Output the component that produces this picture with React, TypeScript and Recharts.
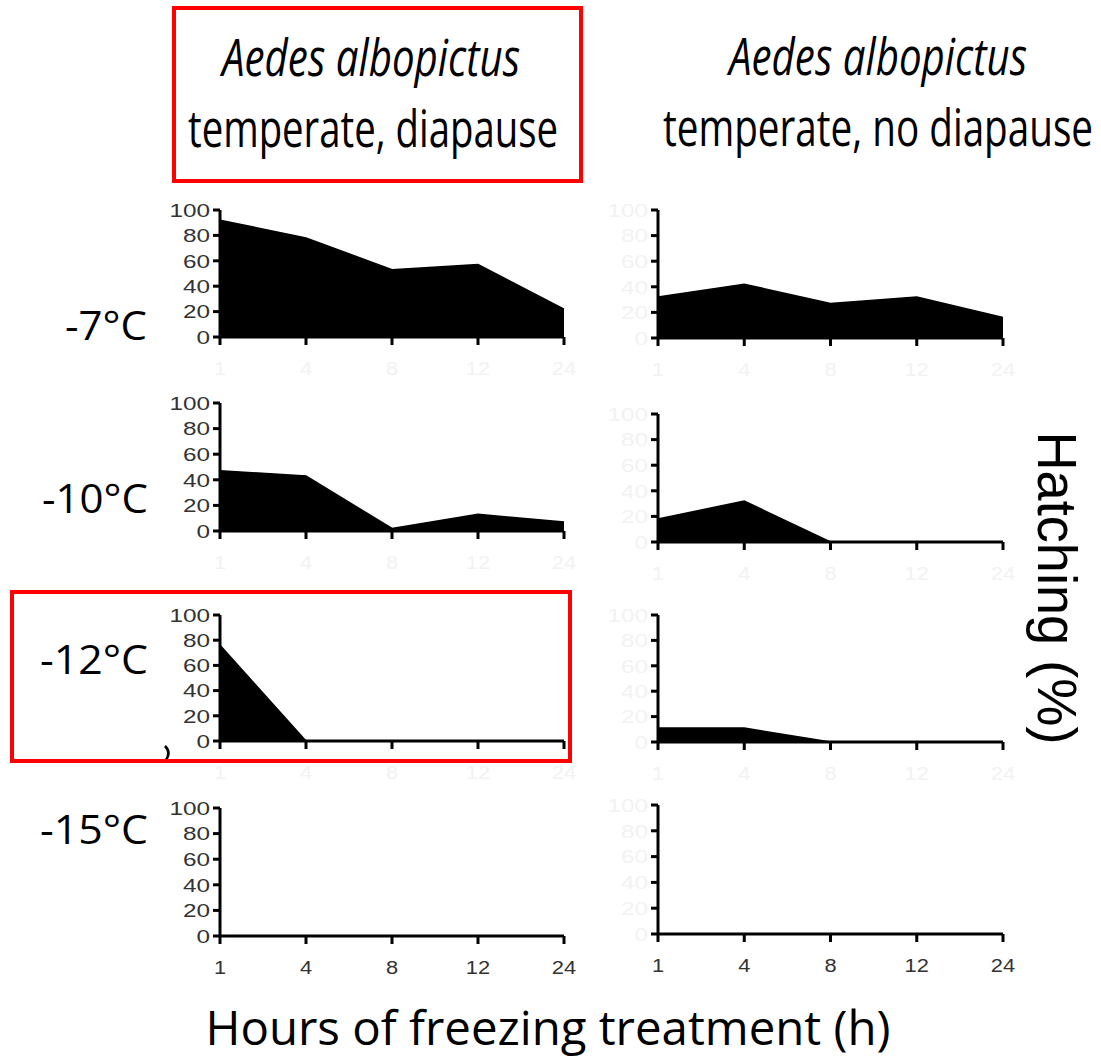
import React from 'react';
import { AreaChart, Area, XAxis, YAxis } from 'recharts';

const HOURS = ['1', '4', '8', '12', '24'];
const Y_TICKS = [0, 20, 40, 60, 80, 100];
const TEMPS = ['-7°C', '-10°C', '-12°C', '-15°C'];
const SPECIES = 'Aedes albopictus';
const GROUPS = ['temperate, diapause', 'temperate, no diapause'];

// hatching (%) per hour
const diapause7 = [92, 78, 53, 57, 22];
const diapause10 = [47, 43, 2, 13, 7];
const diapause12 = [76, 0, 0, 0, 0];
const diapause15 = [0, 0, 0, 0, 0];
const noDiapause7 = [32, 42, 27, 32, 16];
const noDiapause10 = [18, 32, 0, 0, 0];
const noDiapause12 = [11, 11, 0, 0, 0];
const noDiapause15 = [0, 0, 0, 0, 0];

const DARK = '#333333';
const FAINT = '#f2f2f2';

const toRows = (vals: number[]) => HOURS.map((h, i) => ({ h, v: vals[i] }));

// plot-area boxes (left, top, width, height) for each panel
const panels = [
  { vals: diapause7, left: 220, top: 210, w: 344, h: 127, yCol: DARK, xCol: FAINT },
  { vals: noDiapause7, left: 658, top: 210, w: 345, h: 128, yCol: FAINT, xCol: FAINT },
  { vals: diapause10, left: 220, top: 403, w: 344, h: 128, yCol: DARK, xCol: FAINT },
  { vals: noDiapause10, left: 658, top: 414, w: 345, h: 128, yCol: FAINT, xCol: FAINT },
  { vals: diapause12, left: 220, top: 615, w: 344, h: 126, yCol: DARK, xCol: FAINT },
  { vals: noDiapause12, left: 658, top: 615, w: 345, h: 127, yCol: FAINT, xCol: FAINT },
  { vals: diapause15, left: 220, top: 808, w: 344, h: 128, yCol: DARK, xCol: DARK },
  { vals: noDiapause15, left: 658, top: 805, w: 345, h: 129, yCol: FAINT, xCol: DARK },
];

const tickFont = '"Liberation Sans", Arial, sans-serif';
const labelFont = '"Open Sans", "Noto Sans", sans-serif';

function YTick(props: any) {
  const { x, y, payload, color } = props;
  return (
    <text
      transform={`translate(${x},${y}) scale(1.28,1)`}
      textAnchor="end"
      dy="0.36em"
      fontSize={19}
      fontFamily={tickFont}
      fill={color}
    >
      {payload.value}
    </text>
  );
}

function XTick(props: any) {
  const { x, y, payload, color } = props;
  return (
    <text
      transform={`translate(${x},${y + 14}) scale(1.15,1)`}
      textAnchor="middle"
      fontSize={19}
      fontFamily={tickFont}
      fill={color}
    >
      {payload.value}
    </text>
  );
}

// condensed title text: small font stretched upward, so its width stays the natural one
function Title({ x, y, width, stretch, italic, children }: any) {
  return (
    <text
      transform={`translate(${x},${y}) scale(1,${stretch})`}
      fontSize={52 / stretch}
      fontStyle={italic ? 'italic' : 'normal'}
      textAnchor="middle"
      textLength={width}
      lengthAdjust="spacingAndGlyphs"
    >
      {children}
    </text>
  );
}

function Panel({ p }: { p: (typeof panels)[number] }) {
  const W = p.w + 80;
  const H = p.h + 60;
  return (
    <div style={{ position: 'absolute', left: p.left - 60, top: p.top - 15, width: W, height: H }}>
      <AreaChart width={W} height={H} data={toRows(p.vals)} margin={{ top: 15, right: 20, bottom: 0, left: 0 }}>
        <XAxis
          dataKey="h"
          scale="point"
          interval={0}
          height={45}
          padding={{ left: 0, right: 0 }}
          tickSize={8}
          tickMargin={16}
          axisLine={{ stroke: '#000', strokeWidth: 3 }}
          tickLine={{ stroke: '#000', strokeWidth: 3 }}
          tick={(t: any) => <XTick {...t} color={p.xCol} />}
        />
        <YAxis
          type="number"
          domain={[0, 100]}
          ticks={Y_TICKS}
          interval={0}
          width={60}
          tickSize={7}
          tickMargin={3}
          axisLine={{ stroke: '#000', strokeWidth: 3 }}
          tickLine={{ stroke: '#000', strokeWidth: 3 }}
          tick={(t: any) => <YTick {...t} color={p.yCol} />}
        />
        <Area
          type="linear"
          dataKey="v"
          stroke="#000"
          strokeWidth={1.5}
          fill="#000"
          fillOpacity={1}
          dot={false}
          activeDot={false}
          isAnimationActive={false}
        />
      </AreaChart>
    </div>
  );
}

const rowLabels = [
  { x: 65, y: 340, len: 82 },
  { x: 42, y: 513, len: 106 },
  { x: 40, y: 674, len: 108 },
  { x: 40, y: 844, len: 108 },
];

export default function App() {
  return (
    <div style={{ position: 'absolute', left: 0, top: 0, width: 1101, height: 1060, background: '#fff', overflow: 'hidden' }}>
      {panels.map((p, i) => (
        <Panel key={i} p={p} />
      ))}
      <svg width={1101} height={1060} style={{ position: 'absolute', left: 0, top: 0, pointerEvents: 'none' }}>
        <g fontFamily={labelFont} fill="#000">
          <Title x={371} y={76} width={298} stretch={1.29} italic>
            {SPECIES}
          </Title>
          <Title x={878} y={75} width={298} stretch={1.29} italic>
            {SPECIES}
          </Title>
          <Title x={373} y={147} width={370} stretch={1.355}>
            {GROUPS[0]}
          </Title>
          <Title x={878} y={146} width={430} stretch={1.345}>
            {GROUPS[1]}
          </Title>
          {TEMPS.map((t, i) => (
            <text key={t} x={rowLabels[i].x} y={rowLabels[i].y} fontSize={41} textLength={rowLabels[i].len} lengthAdjust="spacingAndGlyphs">
              {t}
            </text>
          ))}
          <text x={548} y={1045} fontSize={48} textAnchor="middle" textLength={685} lengthAdjust="spacingAndGlyphs">
            Hours of freezing treatment (h)
          </text>
        </g>
        <text
          transform="translate(1038,588) rotate(90)"
          textAnchor="middle"
          fontSize={56}
          fontFamily={tickFont}
          textLength={313}
          lengthAdjust="spacingAndGlyphs"
          fill="#000"
        >
          Hatching (%)
        </text>
        <path d="M165,746 Q172,753 165,761" stroke="#000" strokeWidth={2.5} fill="none" />
        <rect x={174} y={8} width={407} height={173} fill="none" stroke="#ff0000" strokeWidth={4} />
        <rect x={12} y={592} width={558} height={169} fill="none" stroke="#ff0000" strokeWidth={4} />
      </svg>
    </div>
  );
}
